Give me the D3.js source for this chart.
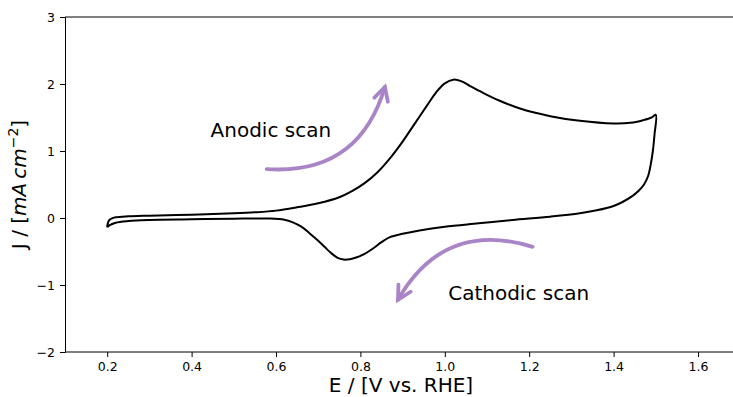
<!DOCTYPE html>
<html>
<head>
<meta charset="utf-8">
<script src="https://cdn.jsdelivr.net/npm/d3@7"></script>
<style>
  body { margin: 0; background: white; }
  text { font-family: "DejaVu Sans", sans-serif; }
</style>
</head>
<body>
<script>
// CV data: anodic sweep then cathodic sweep
const anodicE = [0.200, 0.201, 0.204, 0.210, 0.220, 0.250, 0.300, 0.400, 0.500, 0.550, 0.600, 0.650, 0.700, 0.750, 0.780, 0.810, 0.840, 0.870, 0.900, 0.930, 0.960, 0.980, 1.000, 1.020, 1.040, 1.060, 1.090, 1.130, 1.180, 1.250, 1.320, 1.400, 1.440, 1.470, 1.490, 1.500];
const anodicJ = [-0.14, -0.09, -0.04, -0.01, 0.01, 0.025, 0.035, 0.05, 0.07, 0.085, 0.11, 0.16, 0.22, 0.31, 0.40, 0.52, 0.68, 0.89, 1.14, 1.42, 1.70, 1.88, 2.01, 2.065, 2.04, 1.97, 1.87, 1.75, 1.63, 1.52, 1.45, 1.41, 1.42, 1.46, 1.50, 1.54];

const cathodicE = [1.500, 1.497, 1.493, 1.488, 1.482, 1.472, 1.460, 1.445, 1.420, 1.400, 1.360, 1.320, 1.250, 1.160, 1.080, 1.000, 0.940, 0.900, 0.870, 0.850, 0.830, 0.810, 0.790, 0.775, 0.760, 0.745, 0.730, 0.715, 0.700, 0.680, 0.660, 0.640, 0.620, 0.580, 0.500, 0.400, 0.300, 0.250, 0.220, 0.205, 0.200];
const cathodicJ = [1.54, 1.25, 1.00, 0.80, 0.63, 0.50, 0.41, 0.33, 0.235, 0.18, 0.115, 0.07, 0.02, -0.03, -0.08, -0.13, -0.185, -0.235, -0.285, -0.36, -0.455, -0.535, -0.59, -0.615, -0.62, -0.59, -0.52, -0.43, -0.34, -0.23, -0.13, -0.065, -0.025, -0.008, -0.01, -0.02, -0.03, -0.045, -0.07, -0.11, -0.14];

const xTicks = [0.2, 0.4, 0.6, 0.8, 1.0, 1.2, 1.4, 1.6];
const yTicks = [-2, -1, 0, 1, 2, 3];

// annotation arrows [E start, J start, E end, J end]
const anodicArrow = [0.578, 0.73, 0.858, 1.955];
const cathodicArrow = [1.208, -0.43, 0.889, -1.22];
const anodicLabel = [0.445, 1.21, "Anodic scan"];
const cathodicLabel = [1.008, -1.22, "Cathodic scan"];

const width = 733, height = 397;
const margin = {left: 65, top: 17, bottom: 45};

const holder = d3.select("body")
      .append("svg")
      .attr("width", width)
      .attr("height", height);

const x = d3.scaleLinear().domain([0.1, 1.7]).range([margin.left, margin.left + 1.6 * 422]);
const y = d3.scaleLinear().domain([-2, 3]).range([height - margin.bottom, margin.top]);

const fmtMinus = d => d3.format("")(d).replace("-", "\u2212");

// axes
const xAxis = holder.append("g")
  .attr("transform", "translate(0," + y(-2) + ")")
  .call(d3.axisBottom(x).tickValues(xTicks).tickSize(5).tickPadding(5).tickFormat(d3.format(".1f")));
const yAxis = holder.append("g")
  .attr("transform", "translate(" + x(0.1) + ",0)")
  .call(d3.axisLeft(y).tickValues(yTicks).tickSize(5).tickPadding(5).tickFormat(fmtMinus));

[xAxis, yAxis].forEach(a => {
  a.selectAll("text").style("font-size", "12.5px").style("fill", "#000");
  a.selectAll("line").style("stroke", "#000").style("stroke-width", 1);
  a.select(".domain").style("stroke", "#000").style("stroke-width", 1);
});
xAxis.select(".domain").attr("d", "M" + x(0.1) + ",0H" + x(1.7));

// top spine and right spine
holder.append("line")
  .attr("x1", x(0.1)).attr("x2", x(1.7))
  .attr("y1", y(3)).attr("y2", y(3))
  .style("stroke", "#000").style("stroke-width", 1);
holder.append("line")
  .attr("x1", x(1.7)).attr("x2", x(1.7))
  .attr("y1", y(3)).attr("y2", y(-2))
  .style("stroke", "#000").style("stroke-width", 1);

// axis labels
holder.append("text")
  .attr("x", (x(0.1) + width) / 2 + 2)
  .attr("y", 392)
  .attr("text-anchor", "middle")
  .style("font-size", "20px")
  .text("E / [V vs. RHE]");

const yl = holder.append("text")
  .attr("transform", "translate(26," + y(0.5) + ") rotate(-90)")
  .attr("text-anchor", "middle")
  .style("font-size", "20px");
yl.append("tspan").text("J / [");
yl.append("tspan").style("font-style", "italic").text("mA");
yl.append("tspan").style("font-style", "italic").attr("dx", 4).text("cm");
yl.append("tspan").attr("dy", -8).style("font-size", "14px").text("\u22122");
yl.append("tspan").attr("dy", 8).text("]");

// the voltammogram
const pts = anodicE.map((e, i) => [e, anodicJ[i]])
  .concat(cathodicE.slice(1).map((e, i) => [e, cathodicJ[i + 1]]));

const line = d3.line()
  .x(d => x(d[0]))
  .y(d => y(d[1]))
  .curve(d3.curveCatmullRom.alpha(0.5));

holder.append("path")
  .datum(pts)
  .attr("d", line)
  .style("fill", "none")
  .style("stroke", "#000")
  .style("stroke-width", 2)
  .style("stroke-linejoin", "round");

// curved arrows (arc3 like, rad 0.4)
const arrowColor = "#a985c8";
const drawArrow = (a, rad) => {
  const p0 = [x(a[0]), y(a[1])], p2 = [x(a[2]), y(a[3])];
  const mx = (p0[0] + p2[0]) / 2, my = (p0[1] + p2[1]) / 2;
  const dx = p2[0] - p0[0], dy = p2[1] - p0[1];
  const c = [mx + rad * dy, my - rad * dx];
  holder.append("path")
    .attr("d", "M" + p0 + "Q" + c + " " + p2)
    .style("fill", "none")
    .style("stroke", arrowColor)
    .style("stroke-width", 3.8)
    .style("stroke-linecap", "round");
  // head
  let tx = p2[0] - c[0], ty = p2[1] - c[1];
  const len = Math.hypot(tx, ty);
  tx /= len; ty /= len;
  const ang = 28 * Math.PI / 180, hl = 15;
  const arm = s => {
    const bx = -tx, by = -ty;
    return [p2[0] + hl * (bx * Math.cos(s * ang) - by * Math.sin(s * ang)),
            p2[1] + hl * (bx * Math.sin(s * ang) + by * Math.cos(s * ang))];
  };
  holder.append("path")
    .attr("d", "M" + arm(1) + "L" + p2 + "L" + arm(-1))
    .style("fill", "none")
    .style("stroke", arrowColor)
    .style("stroke-width", 3.8)
    .style("stroke-linecap", "round")
    .style("stroke-linejoin", "miter");
};
drawArrow(anodicArrow, -0.4);
drawArrow(cathodicArrow, -0.4);

[anodicLabel, cathodicLabel].forEach(l => {
  holder.append("text")
    .attr("x", x(l[0]))
    .attr("y", y(l[1]))
    .style("font-size", "20px")
    .text(l[2]);
});
</script>
</body>
</html>
